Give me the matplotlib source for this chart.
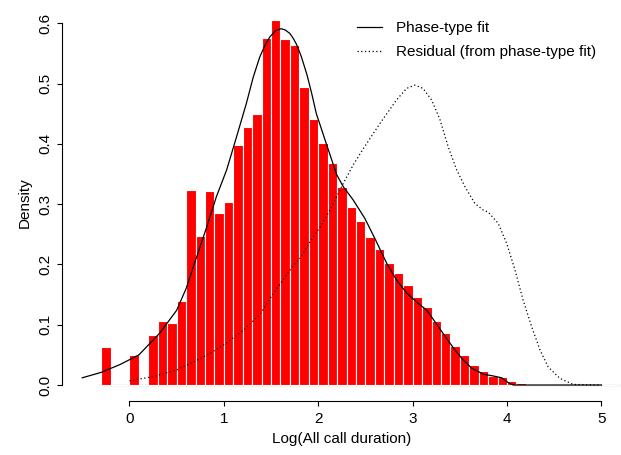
import numpy as np
import matplotlib.pyplot as plt

plt.rcParams['font.family'] = ['Liberation Sans', 'DejaVu Sans']
plt.rcParams['font.size'] = 11

# histogram of log call duration (bins of width 0.1, density)
bin_left = [-0.3, -0.2, -0.1, 0.0, 0.1, 0.2, 0.3, 0.4, 0.5, 0.6, 0.7, 0.8, 0.9,
            1.0, 1.1, 1.2, 1.3, 1.4, 1.5, 1.6, 1.7, 1.8, 1.9, 2.0, 2.1, 2.2,
            2.3, 2.4, 2.5, 2.6, 2.7, 2.8, 2.9, 3.0, 3.1, 3.2, 3.3, 3.4, 3.5,
            3.6, 3.7, 3.8, 3.9, 4.0, 4.1, 4.2, 4.3, 4.4, 4.5, 4.6, 4.7, 4.8,
            4.9, 5.0, 5.1, 5.2]
density = [0.063, 0.0, 0.0, 0.049, 0.0, 0.083, 0.106, 0.103, 0.139, 0.323,
           0.248, 0.322, 0.286, 0.303, 0.398, 0.428, 0.449, 0.576, 0.606,
           0.574, 0.564, 0.494, 0.441, 0.401, 0.369, 0.328, 0.296, 0.272,
           0.246, 0.226, 0.203, 0.186, 0.166, 0.146, 0.129, 0.106, 0.086,
           0.065, 0.049, 0.034, 0.023, 0.0155, 0.0125, 0.006, 0.004, 0.0025,
           0.002, 0.002, 0.0, 0.0, 0.0, 0.0, 0.0, 0.0, 0.0, 0.0]

# phase-type fit density
fit_x = [-0.5, -0.3, -0.1, 0.1, 0.32, 0.5, 0.6, 0.7, 0.818, 0.92, 1.03,
         1.135, 1.24, 1.31, 1.38, 1.44, 1.49, 1.55, 1.605, 1.65, 1.70, 1.735,
         1.77, 1.82, 1.88, 1.93, 1.98, 2.09, 2.195, 2.265, 2.37, 2.495, 2.60,
         2.725, 2.83, 2.94, 3.04, 3.15, 3.25, 3.36, 3.44, 3.52, 3.625, 3.748,
         3.854, 3.943, 4.013, 4.066, 5.0]
fit_y = [0.012, 0.021, 0.034, 0.050, 0.086, 0.124, 0.160, 0.207, 0.262,
         0.312, 0.357, 0.412, 0.468, 0.510, 0.544, 0.565, 0.578, 0.588,
         0.591, 0.589, 0.583, 0.575, 0.565, 0.545, 0.515, 0.484, 0.45,
         0.398, 0.349, 0.329, 0.307, 0.276, 0.243, 0.202, 0.174, 0.152,
         0.138, 0.124, 0.102, 0.077, 0.060, 0.044, 0.028, 0.018, 0.015,
         0.012, 0.004, 0.0, 0.0]

# residual density
res_x = [0.0, 0.25, 0.5, 0.7, 0.85, 1.03, 1.2, 1.38, 1.56, 1.735, 1.806,
         1.91, 2.02, 2.124, 2.25, 2.37, 2.477, 2.654, 2.83, 2.936, 3.024,
         3.11, 3.20, 3.29, 3.377, 3.466, 3.554, 3.66, 3.75, 3.80, 3.907,
         3.996, 4.084, 4.17, 4.26, 4.35, 4.436, 4.56, 4.70, 5.0]
res_y = [0.007, 0.014, 0.025, 0.040, 0.052, 0.070, 0.090, 0.117, 0.160,
         0.198, 0.210, 0.237, 0.262, 0.290, 0.330, 0.365, 0.392, 0.434,
         0.473, 0.492, 0.4975, 0.492, 0.473, 0.440, 0.395, 0.357, 0.329,
         0.301, 0.290, 0.287, 0.268, 0.235, 0.191, 0.141, 0.097, 0.058,
         0.030, 0.011, 0.001, 0.0]

fig = plt.figure(figsize=(6.21, 4.55), dpi=100)
ax = fig.add_axes([61.7 / 621, (455 - 400.7) / 455, (622 - 61.7) / 621, (400.7 - 4) / 455])

ax.hlines(0, bin_left[0], bin_left[-1] + 0.1, color='#d0d0d0', lw=1, zorder=1)
ax.bar(bin_left, density, width=0.1, align='edge', color='red',
       edgecolor='white', linewidth=0.8, zorder=2)
ax.plot(fit_x, fit_y, color='black', lw=0.9, zorder=3, label='Phase-type fit')
ax.plot(res_x, res_y, color='black', lw=0.9, ls=(0, (1, 2)), zorder=3,
        label='Residual (from phase-type fit)')

ax.set_xlim(-0.718, 5.218)
ax.set_ylim(-0.026, 0.632)
for s in ['top', 'right']:
    ax.spines[s].set_visible(False)
ax.spines['left'].set_bounds(0, 0.6)
ax.spines['bottom'].set_bounds(0, 5)
ax.spines['left'].set_linewidth(0.8)
ax.spines['bottom'].set_linewidth(0.8)

ax.set_xticks([0, 1, 2, 3, 4, 5])
ax.set_yticks([0.0, 0.1, 0.2, 0.3, 0.4, 0.5, 0.6])
ax.set_yticklabels(['0.0', '0.1', '0.2', '0.3', '0.4', '0.5', '0.6'],
                   rotation=90, va='center')
ax.tick_params(axis='y', length=3.3, width=0.8, pad=3.5)
ax.tick_params(axis='x', length=3.3, width=0.8, pad=5)

ax.set_xlabel('Log(All call duration)', labelpad=4.5)
ax.set_ylabel('Density', labelpad=5)

ax.legend(loc='upper left', bbox_to_anchor=(357 / 621, 1 - 21 / 455),
          bbox_transform=fig.transFigure, frameon=False, handlelength=1.63,
          handletextpad=0.9, labelspacing=0.65, borderpad=0, borderaxespad=0)

fig.savefig('out.png', dpi=100)
